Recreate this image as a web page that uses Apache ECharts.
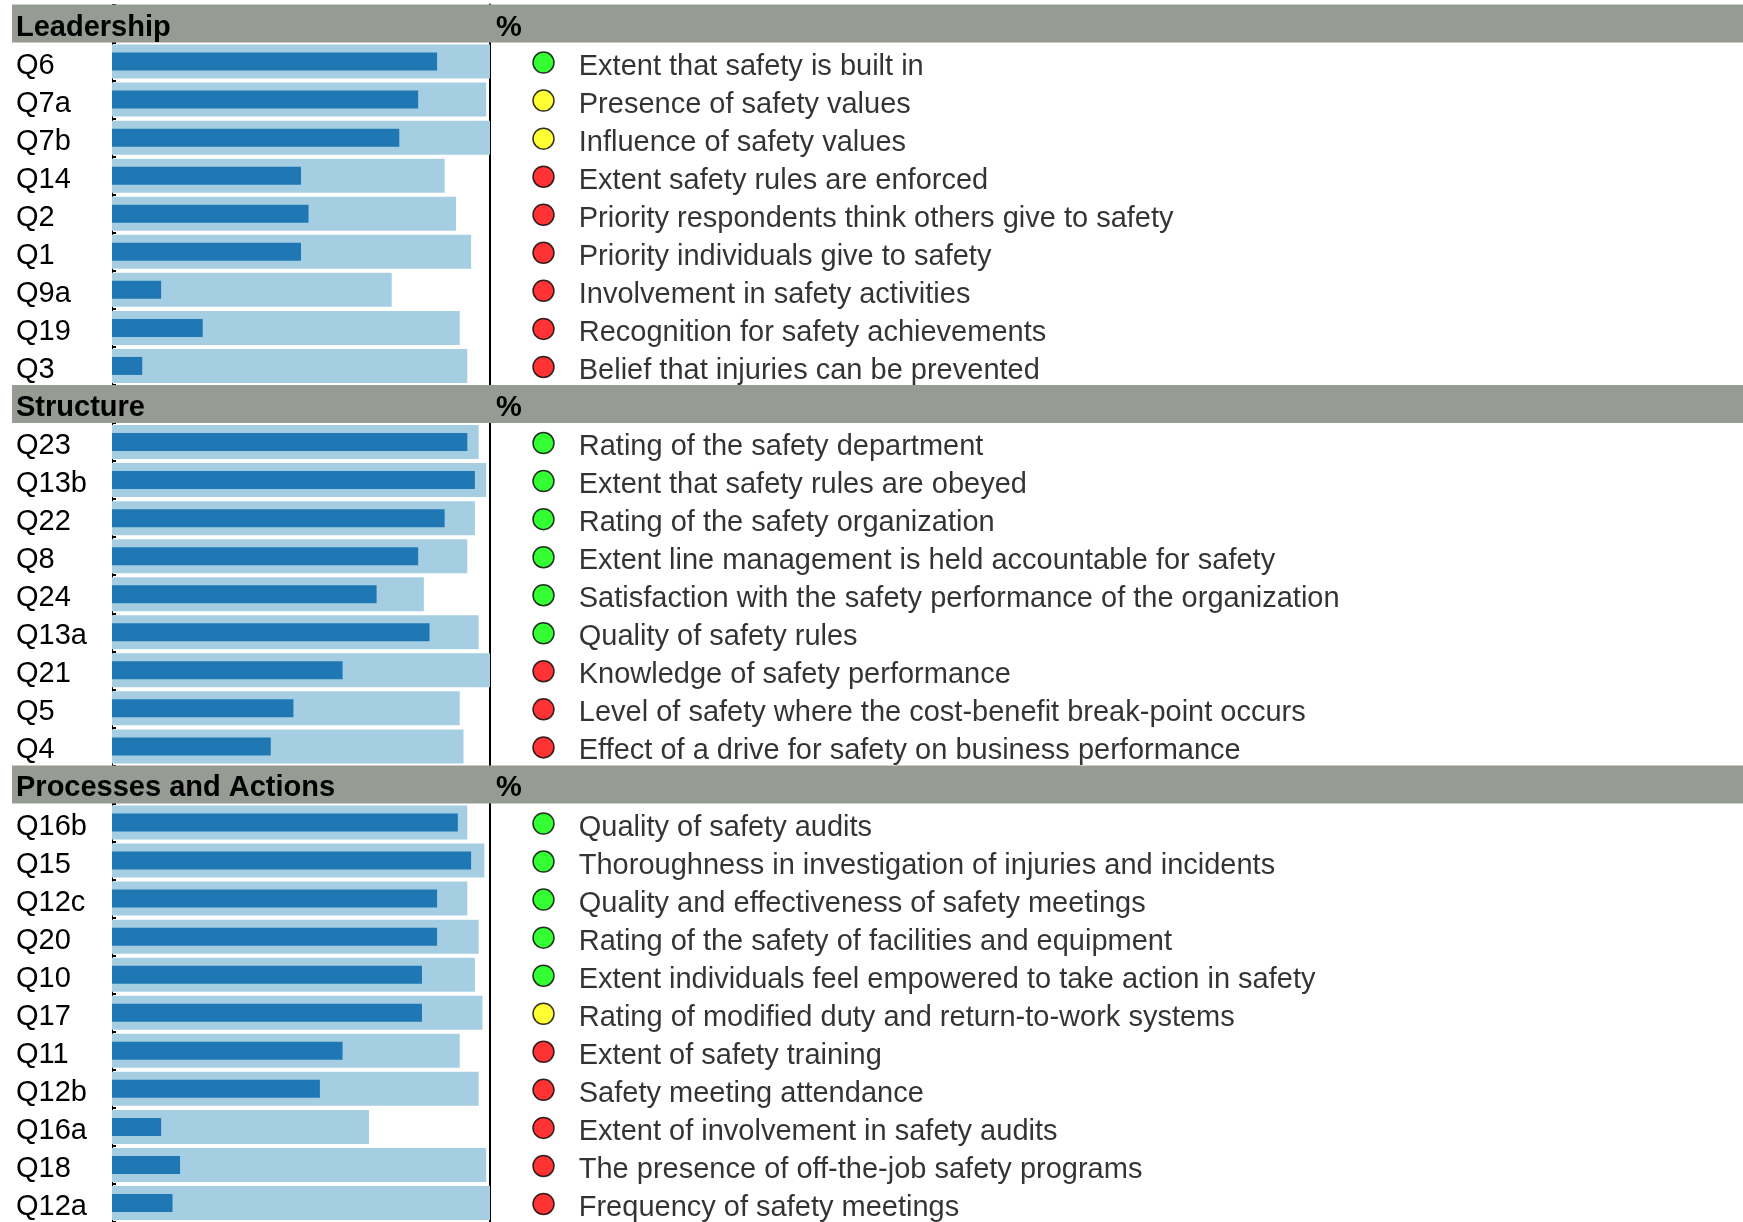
<!DOCTYPE html>
<html>
<head>
<meta charset="utf-8">
<script src="https://cdn.jsdelivr.net/npm/echarts@6/dist/echarts.min.js"></script>
<style>
html, body { margin: 0; padding: 0; background: #fff; }
#chart { width: 1743px; height: 1222px; }
</style>
</head>
<body>
<div id="chart"></div>
<script>
// section titles
const sections = ['Leadership', 'Structure', 'Processes and Actions'];

// Leadership
const leadershipQ = ['Q6', 'Q7a', 'Q7b', 'Q14', 'Q2', 'Q1', 'Q9a', 'Q19', 'Q3'];
const leadershipRange = [100, 99, 100, 88, 91, 95, 74, 92, 94];
const leadershipScore = [86, 81, 76, 50, 52, 50, 13, 24, 8];
const leadershipStatus = ['g', 'y', 'y', 'r', 'r', 'r', 'r', 'r', 'r'];
const leadershipText = [
    'Extent that safety is built in',
    'Presence of safety values',
    'Influence of safety values',
    'Extent safety rules are enforced',
    'Priority respondents think others give to safety',
    'Priority individuals give to safety',
    'Involvement in safety activities',
    'Recognition for safety achievements',
    'Belief that injuries can be prevented'
];

// Structure
const structureQ = ['Q23', 'Q13b', 'Q22', 'Q8', 'Q24', 'Q13a', 'Q21', 'Q5', 'Q4'];
const structureRange = [97, 99, 96, 94, 82.5, 97, 100, 92, 93];
const structureScore = [94, 96, 88, 81, 70, 84, 61, 48, 42];
const structureStatus = ['g', 'g', 'g', 'g', 'g', 'g', 'r', 'r', 'r'];
const structureText = [
    'Rating of the safety department',
    'Extent that safety rules are obeyed',
    'Rating of the safety organization',
    'Extent line management is held accountable for safety',
    'Satisfaction with the safety performance of the organization',
    'Quality of safety rules',
    'Knowledge of safety performance',
    'Level of safety where the cost-benefit break-point occurs',
    'Effect of a drive for safety on business performance'
];

// Processes and Actions
const processQ = ['Q16b', 'Q15', 'Q12c', 'Q20', 'Q10', 'Q17', 'Q11', 'Q12b', 'Q16a', 'Q18', 'Q12a'];
const processRange = [94, 98.5, 94, 97, 96, 98, 92, 97, 68, 99, 100];
const processScore = [91.5, 95, 86, 86, 82, 82, 61, 55, 13, 18, 16];
const processStatus = ['g', 'g', 'g', 'g', 'g', 'y', 'r', 'r', 'r', 'r', 'r'];
const processText = [
    'Quality of safety audits',
    'Thoroughness in investigation of injuries and incidents',
    'Quality and effectiveness of safety meetings',
    'Rating of the safety of facilities and equipment',
    'Extent individuals feel empowered to take action in safety',
    'Rating of modified duty and return-to-work systems',
    'Extent of safety training',
    'Safety meeting attendance',
    'Extent of involvement in safety audits',
    'The presence of off-the-job safety programs',
    'Frequency of safety meetings'
];

const statusColor = { g: '#00ff00', y: '#ffff00', r: '#ff0000' };
const FONT = '"Liberation Sans", Arial, sans-serif';

// собрать строки: заголовок раздела + вопросы
const groups = [
    [leadershipQ, leadershipRange, leadershipScore, leadershipStatus, leadershipText],
    [structureQ, structureRange, structureScore, structureStatus, structureText],
    [processQ, processRange, processScore, processStatus, processText]
];
const rows = [];
groups.forEach((g, si) => {
    rows.push({ header: true, name: sections[si] });
    for (let i = 0; i < g[0].length; i++) {
        rows.push({ header: false, name: g[0][i], range: g[1][i], score: g[2][i], status: g[3][i], text: g[4][i] });
    }
});
const categories = rows.map(r => r.name);

// все сетки на одной высоте строк
const ROW = 38.18;
const TOP = 4.5;
const H = ROW * rows.length;

const chart = echarts.init(document.getElementById('chart'));

const catAxis = (gridIndex, extra) => Object.assign({
    type: 'category',
    gridIndex: gridIndex,
    data: categories,
    inverse: true,
    axisLine: { show: false },
    axisTick: { show: false },
    axisLabel: { show: false },
    splitLine: { show: false }
}, extra || {});

const option = {
    animation: false,
    backgroundColor: '#fff',
    textStyle: { fontFamily: FONT },
    grid: [
        { left: 112, width: 378, top: TOP, height: H },      // bars
        { left: 12, right: 0, top: TOP, height: H },         // header bands
        { left: 543.5, right: 0, top: TOP, height: H }       // status dots + text
    ],
    xAxis: [
        { type: 'value', gridIndex: 0, min: 0, max: 100, show: false },
        { type: 'value', gridIndex: 1, min: 0, max: 1, show: false },
        { type: 'value', gridIndex: 2, min: 0, max: 1, show: false }
    ],
    yAxis: [
        catAxis(0, {
            axisLine: { show: true, lineStyle: { color: '#000', width: 1 } },
            axisTick: { show: true, inside: true, length: 4, lineStyle: { color: '#000', width: 2 } }
        }),
        catAxis(0, {
            position: 'right',
            axisLine: { show: true, lineStyle: { color: '#000', width: 2 } }
        }),
        catAxis(1),
        catAxis(2)
    ],
    series: [
        {
            name: 'range',
            type: 'bar',
            xAxisIndex: 0,
            yAxisIndex: 0,
            barWidth: 34,
            itemStyle: { color: '#a6cee3' },
            // подпись вопроса слева от оси
            label: {
                show: true,
                position: 'insideLeft',
                distance: 0,
                offset: [-96, 4],
                color: '#000',
                fontSize: 29,
                fontFamily: FONT,
                formatter: p => p.name
            },
            data: rows.map(r => r.header ? '-' : r.range)
        },
        {
            name: 'score',
            type: 'bar',
            xAxisIndex: 0,
            yAxisIndex: 1,
            barWidth: 18,
            itemStyle: { color: '#1f78b4' },
            data: rows.map(r => r.header ? '-' : r.score)
        },
        {
            name: 'headers',
            type: 'bar',
            xAxisIndex: 1,
            yAxisIndex: 2,
            barWidth: '100%',
            z: 5,
            itemStyle: { color: '#969b94' },
            label: {
                show: true,
                position: 'insideLeft',
                distance: 4,
                offset: [0, 4],
                formatter: p => '{n|' + p.name + '}{p|%}',
                rich: {
                    n: { width: 480, fontSize: 29, fontWeight: 'bold', color: '#000', fontFamily: FONT },
                    p: { fontSize: 29, fontWeight: 'bold', color: '#000', fontFamily: FONT }
                }
            },
            data: rows.map(r => r.header ? 1 : '-')
        },
        {
            name: 'status',
            type: 'scatter',
            xAxisIndex: 2,
            yAxisIndex: 3,
            symbolSize: 21,
            symbolOffset: [0, 1],
            clip: false,
            itemStyle: { borderColor: '#000', borderWidth: 1.5 },
            label: {
                show: true,
                position: 'right',
                distance: 24,
                offset: [0, 4],
                color: '#000',
                fontSize: 29,
                fontFamily: FONT,
                formatter: p => p.data.text
            },
            data: rows.filter(r => !r.header).map(r => ({
                value: [0, r.name],
                text: r.text,
                itemStyle: { color: statusColor[r.status] }
            }))
        }
    ]
};

chart.setOption(option);
</script>
</body>
</html>
